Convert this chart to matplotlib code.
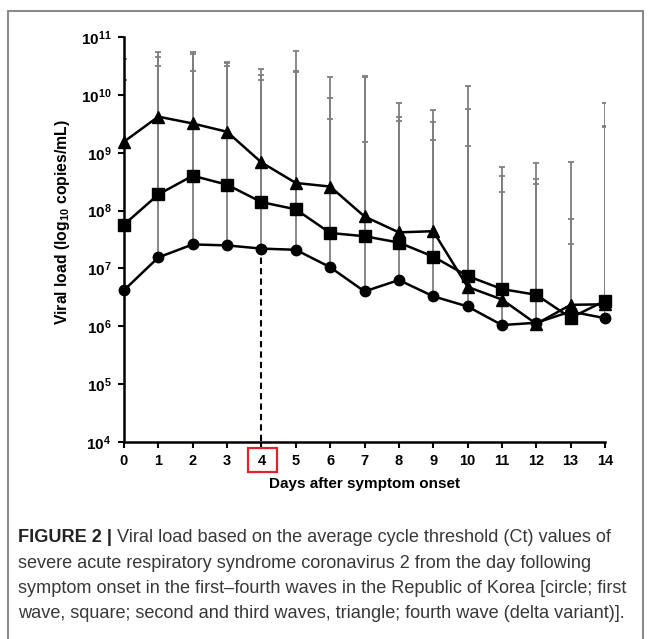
import numpy as np
import matplotlib
matplotlib.use('Agg')
import matplotlib.pyplot as plt
from matplotlib.patches import Rectangle

plt.rcParams['font.family'] = ['Liberation Sans', 'DejaVu Sans']
plt.rcParams['mathtext.fontset'] = 'custom'
plt.rcParams['mathtext.rm'] = 'Liberation Sans'
plt.rcParams['mathtext.bf'] = 'Liberation Sans:bold'

# Days after symptom onset
days = list(range(15))

# Mean viral load (copies/mL) per wave
first_wave = [4.2e6, 1.55e7, 2.6e7, 2.5e7, 2.2e7, 2.1e7, 1.05e7, 4.0e6,
              6.3e6, 3.3e6, 2.2e6, 1.05e6, 1.15e6, 1.8e6, 1.38e6]
second_third_wave = [5.7e7, 1.9e8, 4.0e8, 2.8e8, 1.4e8, 1.05e8, 4.1e7, 3.6e7,
                     2.8e7, 1.6e7, 7.4e6, 4.4e6, 3.5e6, 1.4e6, 2.75e6]
fourth_wave = [1.55e9, 4.2e9, 3.2e9, 2.3e9, 6.8e8, 3.0e8, 2.6e8, 7.9e7,
               4.2e7, 4.4e7, 4.8e6, 2.9e6, 1.1e6, 2.35e6, 2.4e6]

# Upper end of the error bars (copies/mL)
first_upper = [1.8e10, 3.2e10, 2.6e10, 3.2e10, 1.8e10, 2.5e10, 3.8e9, 1.55e9,
               3.6e9, 1.66e9, 1.3e9, 2.1e8, 2.9e8, 2.6e7, 2.75e9]
second_third_upper = [1.8e10, 4.5e10, 5.0e10, 3.5e10, 2.2e10, 2.6e10, 8.9e9, 2.0e10,
                      4.2e9, 3.4e9, 5.6e9, 4.0e8, 3.5e8, 7.1e7, 2.95e9]
fourth_upper = [4.2e10, 5.6e10, 5.6e10, 3.7e10, 2.8e10, 5.8e10, 2.0e10, 2.1e10,
                7.1e9, 5.4e9, 1.45e10, 5.6e8, 6.6e8, 6.9e8, 7.1e9]

y_ticks = [1e4, 1e5, 1e6, 1e7, 1e8, 1e9, 1e10, 1e11]
y_tick_labels = [r'$\mathbf{10^{%d}}$' % p for p in range(4, 12)]

fig = plt.figure(figsize=(6.57, 6.39), dpi=100)
ax = fig.add_axes([0.1887, 0.3083, 0.7322, 0.6338])

series = [(first_wave, first_upper, 'o', 7.5),
          (second_third_wave, second_third_upper, 's', 8),
          (fourth_wave, fourth_upper, '^', 8)]

# Upward error bars in grey
for vals, upper, m, ms in series:
    vals = np.array(vals)
    up = np.array(upper) - vals
    ax.errorbar(days, vals, yerr=[np.zeros_like(vals), up], fmt='none',
                ecolor='#7f7f7f', elinewidth=1.3, capsize=2.3, capthick=1.3, zorder=2)

# Mean lines with markers
for vals, upper, m, ms in series:
    ax.plot(days, vals, color='black', lw=1.8, marker=m, markersize=ms,
            zorder=4, clip_on=False)

# Dashed line at day 4
ax.plot([4, 4], [1.05e4, first_wave[4]], color='black', lw=1.5,
        linestyle=(0, (3, 2)), zorder=3)

ax.set_yscale('log')
ax.set_ylim(1e4, 1e11)
ax.set_xlim(0, 14)
ax.set_yticks(y_ticks)
ax.set_yticklabels(y_tick_labels, fontsize=11)
ax.yaxis.set_minor_locator(matplotlib.ticker.NullLocator())
ax.set_xticks(days)
ax.set_xticklabels([str(d) for d in days], fontsize=10.5, fontweight='bold')

for side in ['top', 'right']:
    ax.spines[side].set_visible(False)
for side in ['left', 'bottom']:
    ax.spines[side].set_linewidth(1.8)
ax.tick_params(axis='both', direction='out', length=4, width=1.5, pad=5)

ax.set_xlabel('Days after symptom onset', fontsize=11, fontweight='bold', labelpad=6)
ax.set_ylabel(r'Viral load (log$_{\mathbf{10}}$ copies/mL)', fontsize=11.3,
              fontweight='bold')
ax.yaxis.set_label_coords(-0.108, 0.543)

# Red box around the day 4 label
fig.patches.append(Rectangle((248 / 657, 1 - 472 / 639), 29 / 657, 24 / 639,
                             transform=fig.transFigure, fill=False,
                             edgecolor='#e8202a', lw=1.6))

# Outer frame
fig.patches.append(Rectangle((8 / 657, -0.05), 635 / 657, 1.05 - 11 / 639,
                             transform=fig.transFigure, fill=False,
                             edgecolor='#8a8a8a', lw=1.5))

# Caption
cap_lines = [
    'Viral load based on the average cycle threshold (Ct) values of',
    'severe acute respiratory syndrome coronavirus 2 from the day following',
    'symptom onset in the first\u2013fourth waves in the Republic of Korea [circle; first',
    'wave, square; second and third waves, triangle; fourth wave (delta variant)].',
]
cap_size = 13.1
t = fig.text(18 / 657, 1 - 537 / 639, 'FIGURE 2 | ', fontsize=cap_size, fontweight='bold',
             color='#222222', va='center')
fig.canvas.draw()
bb = t.get_window_extent()
fig.text(bb.x1 / 657, 1 - 537 / 639, cap_lines[0], fontsize=cap_size,
         color='#383838', va='center')
for i, line in enumerate(cap_lines[1:]):
    fig.text(18 / 657, 1 - (563 + 25.5 * i) / 639, line, fontsize=cap_size,
             color='#383838', va='center')

plt.savefig('out.png', dpi=100)
